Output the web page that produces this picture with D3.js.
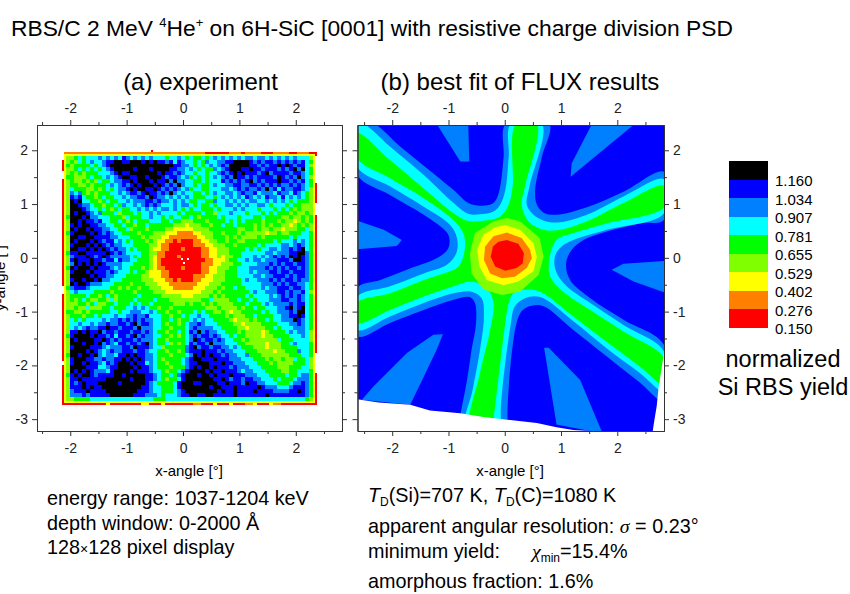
<!DOCTYPE html>
<html>
<head>
<meta charset="utf-8">
<script src="https://d3js.org/d3.v7.min.js"></script>
<style>
body { margin: 0; background: #fff; }
svg { display: block; }
text { font-family: "Liberation Sans", Arial, sans-serif; fill: #000; }
.tick text { fill: #222; }
</style>
</head>
<body>
<div id="chart"></div>
<script>
// bands of the yield, index 0 = lowest
var bandColors = ["#ff0000", "#ff8000", "#ffff00", "#80ff00", "#00ff00", "#00ffff", "#0080ff", "#0000ff", "#000000"];
var bandEdges = ["1.160", "1.034", "0.907", "0.781", "0.655", "0.529", "0.402", "0.276", "0.150"];

var xMajor = [-2, -1, 0, 1, 2];
var xMinor = [-2.5, -1.5, -0.5, 0.5, 1.5, 2.5];
var yMajor = [-3, -2, -1, 0, 1, 2];
var yMinor = [-2.5, -1.5, -0.5, 0.5, 1.5];

// experiment, band index, one char = 2x2 display pixels (top row first)
var expRows = [
"22222222 22222222 22222222 22222222 22222222 22222222 22222222 22222222",
"23345455 56565657 65656565 55455654 54454565 65656566 56656565 65655532",
"23435456 55677887 78887878 77675765 54546556 67788887 67677676 76767542",
"24344445 45678888 88888888 88887766 54545656 76888887 76767787 87677532",
"23345454 54567888 88788878 88877665 65454465 67888778 77677767 67868542",
"23434344 45556787 78888888 78776765 54554556 76787877 76786777 76776542",
"24433345 44565678 87788788 87677656 45454565 67687767 67777687 67686532",
"23433434 35445667 78788878 77868665 54454555 76767678 67677787 76767542",
"23443343 44456567 67878887 87676865 54544565 56677667 76767676 67676542",
"23544433 43454566 78788778 76767656 45544555 66567676 67686757 66776532",
"23656434 34445565 67767877 67686565 54454565 56656766 75666576 65765432",
"23767544 34544556 56677687 66565656 54445545 65656576 56576657 56565432",
"23878554 43454455 65666776 76656565 44554465 56565656 65565656 54544432",
"23887665 44344546 55656767 65556566 54544545 56656565 56654555 45443332",
"23888765 54543454 45565656 56656545 45544454 55565655 54555454 54343332",
"23878876 56444534 44545565 65555454 44454435 55655545 55454544 43433432",
"24888786 65554443 54445565 54545544 54344445 45554555 44544443 34334342",
"23887877 67554454 34544455 54454433 34443444 45454544 44344434 33234342",
"23787887 76655445 44344544 44443332 33344344 54454444 34343443 32343432",
"23878878 77665544 53444344 44332222 23333444 44443344 34334332 33344532",
"24788887 87676554 44434443 33222111 12233344 34443433 33323343 34445542",
"23887788 77776655 54443433 32211111 11223344 43434333 34344444 45455542",
"23878887 87677565 45444343 22110100 01122334 43443344 44444545 55656542",
"23788878 78767665 55444433 21100000 01112233 34434444 45455556 65676542",
"23887787 87876766 54544432 21100010 00011223 33444454 54556656 67678542",
"24778877 77787676 55554433 11000000 00011223 33444555 55566566 67788642",
"23677787 67876666 65454432 11000100 00011223 23344555 65656767 68787642",
"23787778 77677576 65544432 10000000 00001122 23445565 66566677 76887642",
"23687878 78766665 55444432 10000000 00011122 33344555 56667676 77677642",
"24878887 87776565 54443432 11000010 00011223 33445556 66676767 67767642",
"23788878 77767655 54544322 21100000 00011223 34445556 56667767 76777642",
"23888887 87766555 44443322 21100000 01112233 34445555 66566777 67677642",
"23788788 78665554 44443332 22110100 01122233 34444565 56667676 77676642",
"23878876 66555444 43444333 22211111 11222333 44444555 55666767 67766542",
"24677765 55554434 34434433 32221111 12223334 34454455 55656677 76776542",
"23565555 44443444 44344443 33222222 22233343 44444445 65566677 67667532",
"23444454 43454344 44454444 43333322 23333434 34444454 55556567 67676542",
"23434543 34435344 44544445 44433333 33344533 33445445 45556667 76676542",
"23334434 53344544 45454454 44443334 34434343 33344454 44565666 67677542",
"23343353 33445444 55656544 34434444 44443334 33334344 54455566 78678542",
"24433434 44445545 56665565 44344344 45454433 43233444 44545566 67688542",
"23444344 54555655 66766755 54434454 55655444 43433344 54444556 67787542",
"23545455 55656676 76767665 54454344 56565544 44323334 34454556 66876542",
"23556556 56676677 67867765 54344345 66765554 44433233 33444455 56676542",
"23565676 67787767 77686665 54434445 67666655 44443323 33344545 55666542",
"23778787 78677677 76776765 44344545 76867665 54443433 33234444 56566532",
"24788887 87767577 67867665 54434345 67677676 55454433 33233444 45556532",
"23878888 77876767 77676665 44344445 68767767 65544343 33333354 44555532",
"23888788 78676577 67767865 44534345 76776866 65554433 33323334 45655542",
"23788887 77656667 76877765 53444446 78677677 66565444 33323334 44455542",
"23888878 76567667 77677655 44344346 77787776 76655544 43333233 44465542",
"24887887 86566577 87877665 44434445 68787877 67665564 44333333 34445542",
"23788877 66766778 78787665 43444456 78877787 77666555 44434334 33544532",
"23788787 76576788 87877565 44344456 77888777 87766655 54443433 33444532",
"23888877 75567788 88787765 44434446 78788787 77676665 55444433 34445532",
"23878787 66657888 87877765 54344567 88887877 87776566 55544443 34455542",
"24787887 67777887 88888776 54454678 88788787 77877766 65554444 54456642",
"23778777 77788888 87888776 54344578 88888877 87677677 66555454 44566642",
"23767877 78888878 88888765 44445788 87788887 78777687 76655544 45667642",
"23777878 77888888 88887765 54445788 88888788 77787777 78766655 56777642",
"23677787 77788888 88877765 54445678 88888887 87787777 87777666 67787642",
"23666767 77778888 88777666 54555677 88778877 77787777 77787777 77777642",
"23344445 55555555 55555554 44555555 55555555 55555555 55555555 55555432",
"22222222 22222222 22222222 22222222 22222222 22222222 22222222 22222222"
];

// outermost ring of the experiment map, "." = no pixel
var rimTop    = "1111111111111111111111111111111111110000001110111100011110011100";
var rimBottom = "0000000000020000000022000200000001100020002000112000211000000000";
var rimLeft   = "..000..000000000000000000000000000..00000000000000000.0000000000";
var rimRight  = "0.......00000...00000000000000000000000000000000000.....00000000";

// single stray display pixels [col, row, band], 9 = empty
var strayPixels = [[60, 54, 9], [63, 54, 9], [61, 56, 9], [45, -1, 0]];

// FLUX fit, contour bands in degrees, painted from outside to inside
var fluxAzure = [
[[-1.21, 2.49], [-0.65, 2.49], [-0.63, 1.79], [-0.79, 1.79]],
[[1.55, 2.49], [2.31, 2.49], [1.17, 1.51], [1.19, 1.76]],
[[-2.62, 0.69], [-2.15, 0.52], [-1.83, 0.33], [-1.92, 0.22], [-2.62, 0.16]],
[[1.90, -0.22], [2.11, -0.11], [2.83, -0.06], [2.83, -0.64], [2.29, -0.44]],
[[-1.10, -1.42], [-1.27, -1.43], [-1.74, -1.77], [-2.33, -2.39], [-2.54, -2.64], [-1.68, -2.73], [-1.44, -2.21], [-1.21, -1.71]],
[[0.70, -1.67], [0.78, -1.67], [1.34, -2.27], [1.72, -3.22], [1.52, -3.22], [0.92, -3.10]]
];
var fluxStarAzure = [[0.02, 2.49], [-0.02, 1.88], [-0.08, 1.33], [-0.14, 1.11], [-0.23, 1.00], [-0.44, 0.97], [-0.65, 1.02], [-0.91, 1.26], [-1.39, 1.67], [-1.86, 2.07], [-2.33, 2.49], [-2.62, 2.49], [-2.62, 1.54], [-2.04, 1.17], [-1.44, 0.80], [-1.02, 0.46], [-0.98, 0.30], [-1.02, 0.15], [-1.21, -0.01], [-1.74, -0.22], [-2.21, -0.41], [-2.62, -0.56], [-2.62, -1.46], [-2.04, -1.21], [-1.44, -0.97], [-0.91, -0.78], [-0.62, -0.73], [-0.53, -0.84], [-0.51, -1.21], [-0.59, -1.71], [-0.67, -2.27], [-0.78, -2.87], [-0.84, -3.22], [0.09, -3.22], [0.05, -3.01], [0.21, -1.21], [0.32, -0.97], [0.48, -0.89], [0.69, -0.90], [1.22, -1.34], [1.81, -1.83], [2.40, -2.32], [2.83, -2.67], [2.83, -1.62], [2.11, -1.15], [1.52, -0.75], [1.16, -0.41], [1.09, -0.10], [1.19, 0.15], [1.40, 0.33], [1.81, 0.49], [2.40, 0.64], [2.83, 0.71], [2.83, 1.60], [2.11, 1.23], [1.46, 0.94], [0.92, 0.80], [0.69, 0.84], [0.57, 0.99], [0.54, 1.26], [0.66, 1.88], [0.79, 2.49]];
var fluxStarCyan = [[0.11, 2.49], [0.07, 1.88], [0.01, 1.26], [-0.08, 0.99], [-0.20, 0.86], [-0.44, 0.81], [-0.65, 0.82], [-0.91, 1.02], [-1.44, 1.54], [-2.04, 2.07], [-2.51, 2.49], [-2.62, 2.49], [-2.62, 1.69], [-2.04, 1.33], [-1.44, 0.95], [-0.97, 0.61], [-0.85, 0.37], [-0.86, 0.09], [-1.03, -0.13], [-1.44, -0.29], [-2.04, -0.53], [-2.62, -0.73], [-2.62, -1.34], [-2.04, -1.09], [-1.44, -0.84], [-0.91, -0.66], [-0.59, -0.63], [-0.41, -0.75], [-0.37, -1.09], [-0.44, -1.71], [-0.57, -2.45], [-0.70, -3.22], [-0.02, -3.22], [-0.07, -2.98], [0.11, -1.21], [0.18, -0.90], [0.36, -0.75], [0.63, -0.73], [1.22, -1.18], [1.81, -1.68], [2.40, -2.14], [2.83, -2.48], [2.83, -1.74], [2.11, -1.25], [1.52, -0.84], [1.10, -0.53], [0.91, -0.25], [0.89, 0.02], [1.01, 0.21], [1.22, 0.33], [1.81, 0.52], [2.83, 0.83], [2.83, 1.46], [2.11, 1.14], [1.46, 0.80], [0.98, 0.66], [0.72, 0.68], [0.51, 0.80], [0.39, 0.99], [0.44, 1.33], [0.66, 2.49]];
var fluxStarGreen = [[0.20, 2.49], [0.14, 1.33], [0.07, 0.99], [-0.08, 0.77], [-0.38, 0.69], [-0.67, 0.69], [-0.91, 0.83], [-1.44, 1.29], [-2.04, 1.82], [-2.62, 2.32], [-2.62, 1.85], [-2.04, 1.48], [-1.44, 1.11], [-0.85, 0.64], [-0.72, 0.40], [-0.72, 0.09], [-0.82, -0.16], [-0.97, -0.25], [-1.44, -0.41], [-2.04, -0.66], [-2.62, -0.84], [-2.62, -1.21], [-2.04, -0.97], [-1.44, -0.72], [-0.91, -0.53], [-0.59, -0.44], [-0.32, -0.56], [-0.20, -0.84], [-0.26, -1.34], [-0.44, -2.14], [-0.62, -3.22], [-0.23, -3.22], [-0.19, -2.92], [0.01, -1.21], [0.07, -0.84], [0.15, -0.66], [0.39, -0.59], [0.63, -0.63], [1.22, -1.09], [1.81, -1.56], [2.40, -2.02], [2.83, -2.36], [2.83, -1.86], [2.11, -1.37], [1.52, -0.97], [1.04, -0.63], [0.81, -0.35], [0.79, -0.04], [0.92, 0.33], [1.22, 0.46], [1.81, 0.64], [2.83, 0.94], [2.83, 1.34], [2.11, 1.02], [1.46, 0.68], [0.98, 0.52], [0.69, 0.52], [0.42, 0.68], [0.30, 0.99], [0.36, 1.33], [0.57, 2.49]];
var fluxLime = [[0.04, 0.74], [0.27, 0.68], [0.62, 0.37], [0.69, 0.02], [0.60, -0.32], [0.27, -0.63], [-0.05, -0.69], [-0.38, -0.59], [-0.59, -0.29], [-0.62, 0.09], [-0.53, 0.46], [-0.20, 0.68]];
var fluxYellow = [[0.01, 0.61], [0.27, 0.52], [0.51, 0.27], [0.57, 0.02], [0.51, -0.25], [0.24, -0.44], [-0.02, -0.51], [-0.32, -0.41], [-0.45, -0.16], [-0.49, 0.15], [-0.38, 0.43], [-0.17, 0.57]];
var fluxOrange = [[0.04, 0.47], [0.30, 0.37], [0.45, 0.15], [0.48, -0.01], [0.39, -0.19], [0.18, -0.35], [-0.05, -0.38], [-0.26, -0.29], [-0.37, -0.04], [-0.35, 0.21], [-0.20, 0.40]];
var fluxRed = [[0.04, 0.33], [0.24, 0.26], [0.34, 0.09], [0.32, -0.10], [0.21, -0.19], [0.01, -0.24], [-0.17, -0.16], [-0.25, 0.02], [-0.21, 0.21], [-0.11, 0.30]];
var fluxEmptyBottom = [[-2.62, -2.63], [-2.24, -2.69], [-1.68, -2.73], [-1.33, -2.84], [-0.79, -2.89], [-0.38, -2.96], [0.04, -3.01], [0.57, -3.07], [0.92, -3.15], [1.22, -3.20], [1.52, -3.22], [-2.62, -3.22]];
var fluxEmptyRight = [[2.83, -1.77], [2.77, -2.17], [2.73, -2.45], [2.70, -2.76], [2.66, -3.01], [2.63, -3.22], [2.83, -3.22]];

var svg = d3.select("#chart").append("svg")
    .attr("width", 850)
    .attr("height", 594);

var yScale = d3.scaleLinear().domain([2.47, -3.22]).range([125, 431]);
var xScaleA = d3.scaleLinear().domain([-2.59, 2.82]).range([37, 342]);
var xScaleB = d3.scaleLinear().domain([-2.617, 2.83]).range([357.5, 664]);

// display pixel index -> degrees, experiment map
var pixX = d3.scaleLinear().domain([0, 128]).range([-2.149, 2.369]);
var pixY = d3.scaleLinear().domain([0, 128]).range([1.974, -2.733]);

function pixelRect(col, row, w, h, band) {
    var px0 = Math.round(xScaleA(pixX(col)));
    var py0 = Math.round(yScale(pixY(row)));
    svg.select("#exp_cells").append("rect")
        .attr("x", px0)
        .attr("y", py0)
        .attr("width", Math.round(xScaleA(pixX(col + w))) - px0)
        .attr("height", Math.round(yScale(pixY(row + h))) - py0)
        .attr("fill", band === 9 ? "#fff" : bandColors[band]);
}

function drawAxes(xScale, labelSide) {
    var top = yScale.range()[0], bottom = yScale.range()[1];
    var left = xScale.range()[0], right = xScale.range()[1];
    var fmt = function (d) { return d; };

    var g = svg.append("g");
    g.append("g").attr("transform", "translate(0," + top + ")")
        .call(d3.axisTop(xScale).tickValues(xMajor).tickSize(5).tickSizeOuter(0).tickPadding(7).tickFormat(fmt));
    g.append("g").attr("transform", "translate(0," + top + ")")
        .call(d3.axisTop(xScale).tickValues(xMinor).tickSize(3).tickSizeOuter(0).tickFormat(""));
    g.append("g").attr("transform", "translate(0," + bottom + ")")
        .call(d3.axisBottom(xScale).tickValues(xMajor).tickSize(5).tickSizeOuter(0).tickPadding(7).tickFormat(fmt));
    g.append("g").attr("transform", "translate(0," + bottom + ")")
        .call(d3.axisBottom(xScale).tickValues(xMinor).tickSize(3).tickSizeOuter(0).tickFormat(""));
    g.append("g").attr("transform", "translate(" + left + ",0)")
        .call(d3.axisLeft(yScale).tickValues(yMajor).tickSize(5).tickSizeOuter(0).tickPadding(4).tickFormat(labelSide === "left" ? fmt : ""));
    g.append("g").attr("transform", "translate(" + left + ",0)")
        .call(d3.axisLeft(yScale).tickValues(yMinor).tickSize(3).tickSizeOuter(0).tickFormat(""));
    g.append("g").attr("transform", "translate(" + right + ",0)")
        .call(d3.axisRight(yScale).tickValues(yMajor).tickSize(5).tickSizeOuter(0).tickPadding(4).tickFormat(labelSide === "right" ? fmt : ""));
    g.append("g").attr("transform", "translate(" + right + ",0)")
        .call(d3.axisRight(yScale).tickValues(yMinor).tickSize(3).tickSizeOuter(0).tickFormat(""));

    g.selectAll("text").attr("font-size", 14).style("font-family", '"Liberation Sans", Arial, sans-serif');
    g.selectAll("line").attr("stroke", "#333");
    g.selectAll("path.domain").attr("stroke", "#333");
}

// ---- panel a
svg.append("g").attr("id", "exp_cells").attr("shape-rendering", "crispEdges");

expRows.forEach(function (line, r) {
    var row = line.replace(/ /g, "");
    for (var c = 0; c < row.length; c++) {
        pixelRect(c * 2, r * 2, 2, 2, +row[c]);
    }
});
rimTop.split("").forEach(function (b, i) { if (b !== ".") pixelRect(i * 2, 0, 2, 1, +b); });
rimBottom.split("").forEach(function (b, i) { if (b !== ".") pixelRect(i * 2, 127, 2, 1, +b); });
rimLeft.split("").forEach(function (b, i) {
    pixelRect(0, i * 2, 1, 2, b === "." ? 9 : +b);
});
rimRight.split("").forEach(function (b, i) {
    pixelRect(127, i * 2, 1, 2, b === "." ? 9 : +b);
});
strayPixels.forEach(function (p) { pixelRect(p[0], p[1], 1, 1, p[2]); });

drawAxes(xScaleA, "left");

// ---- panel b
svg.append("clipPath").attr("id", "flux_clip").append("rect")
    .attr("x", xScaleB.range()[0])
    .attr("y", yScale.range()[0])
    .attr("width", xScaleB.range()[1] - xScaleB.range()[0])
    .attr("height", yScale.range()[1] - yScale.range()[0]);

var fluxG = svg.append("g").attr("clip-path", "url(#flux_clip)");
var fluxLine = d3.line()
    .x(function (d) { return xScaleB(d[0]); })
    .y(function (d) { return yScale(d[1]); });
// the star contours have round notches between the arms
var fluxCurve = d3.line()
    .x(function (d) { return xScaleB(d[0]); })
    .y(function (d) { return yScale(d[1]); })
    .curve(d3.curveCatmullRomClosed.alpha(0.5));

function fluxBand(points, color, line) {
    fluxG.append("path")
        .attr("d", line ? line(points) : fluxLine(points) + "Z")
        .attr("fill", color);
}

fluxG.append("rect")
    .attr("x", xScaleB.range()[0])
    .attr("y", yScale.range()[0])
    .attr("width", xScaleB.range()[1] - xScaleB.range()[0])
    .attr("height", yScale.range()[1] - yScale.range()[0])
    .attr("fill", bandColors[7]);

fluxAzure.forEach(function (p) { fluxBand(p, bandColors[6]); });
fluxBand(fluxStarAzure, bandColors[6], fluxCurve);
fluxBand(fluxStarCyan, bandColors[5], fluxCurve);
fluxBand(fluxStarGreen, bandColors[4], fluxCurve);
fluxBand(fluxLime, bandColors[3]);
fluxBand(fluxYellow, bandColors[2]);
fluxBand(fluxOrange, bandColors[1]);
fluxBand(fluxRed, bandColors[0]);
fluxBand(fluxEmptyBottom, "#fff");
fluxBand(fluxEmptyRight, "#fff");

drawAxes(xScaleB, "right");

// ---- legend
var legendY = d3.scaleBand().domain(d3.range(8, -1, -1)).range([161, 328]);
svg.append("g").attr("shape-rendering", "crispEdges")
    .selectAll("rect").data(d3.range(0, 9)).enter().append("rect")
    .attr("x", 729)
    .attr("y", function (d) { return legendY(d); })
    .attr("width", 39)
    .attr("height", legendY.bandwidth())
    .attr("fill", function (d) { return bandColors[d]; });

svg.selectAll(".band_label").data(bandEdges).enter().append("text")
    .attr("class", "band_label")
    .attr("x", 775)
    .attr("y", function (d, i) { return 186 + i * legendY.bandwidth(); })
    .attr("font-size", 15)
    .text(function (d) { return d; });

// ---- texts
function addText(x, y, size, str, anchor) {
    return svg.append("text")
        .attr("x", x)
        .attr("y", y)
        .attr("font-size", size)
        .attr("text-anchor", anchor || "start")
        .text(str);
}

addText(783, 367, 23.5, "normalized", "middle");
addText(783, 395, 23.5, "Si RBS yield", "middle");

var title = addText(11, 36, 22.8, "RBS/C 2 MeV ");
title.append("tspan").attr("font-size", 13).attr("dy", -9).text("4");
title.append("tspan").attr("dy", 9).text("He");
title.append("tspan").attr("font-size", 13).attr("dy", -9).text("+");
title.append("tspan").attr("dy", 9).text(" on 6H-SiC [0001] with resistive charge division PSD");

addText(200.5, 90, 24, "(a) experiment", "middle");
addText(520, 90, 24, "(b) best fit of FLUX results", "middle");

addText(189, 476, 15, "x-angle [\u00b0]", "middle");
addText(510, 476, 15, "x-angle [\u00b0]", "middle");

svg.append("text")
    .attr("transform", "translate(5,278) rotate(-90)")
    .attr("text-anchor", "middle")
    .attr("font-size", 15)
    .text("y-angle [ ]");

addText(47, 505, 19.8, "energy range: 1037-1204 keV");
addText(47, 530, 19.8, "depth window: 0-2000 \u00c5");
var px128 = addText(47, 554, 19.8, "128");
px128.append("tspan").attr("font-size", 14).text("\u00d7");
px128.append("tspan").text("128 pixel display");

var debye = addText(368, 502, 19.8, "");
debye.append("tspan").attr("font-style", "italic").text("T");
debye.append("tspan").attr("font-size", 12).attr("dy", 4).text("D");
debye.append("tspan").attr("dy", -4).text("(Si)=707 K, ");
debye.append("tspan").attr("font-style", "italic").text("T");
debye.append("tspan").attr("font-size", 12).attr("dy", 4).text("D");
debye.append("tspan").attr("dy", -4).text("(C)=1080 K");

var reso = addText(368, 533, 19.8, "apparent angular resolution: ");
reso.append("tspan").attr("font-style", "italic").style("font-family", '"Liberation Serif", serif').text("\u03c3");
reso.append("tspan").text(" = 0.23\u00b0");

addText(368, 558, 19.8, "minimum yield:");
var chi = addText(532, 558, 19.8, "");
chi.append("tspan").attr("font-style", "italic").style("font-family", '"Liberation Serif", serif').text("\u03c7");
chi.append("tspan").attr("font-size", 12).attr("dy", 4).text("min");
chi.append("tspan").attr("dy", -4).text("=15.4%");

addText(368, 588, 19.8, "amorphous fraction: 1.6%");
</script>
</body>
</html>
